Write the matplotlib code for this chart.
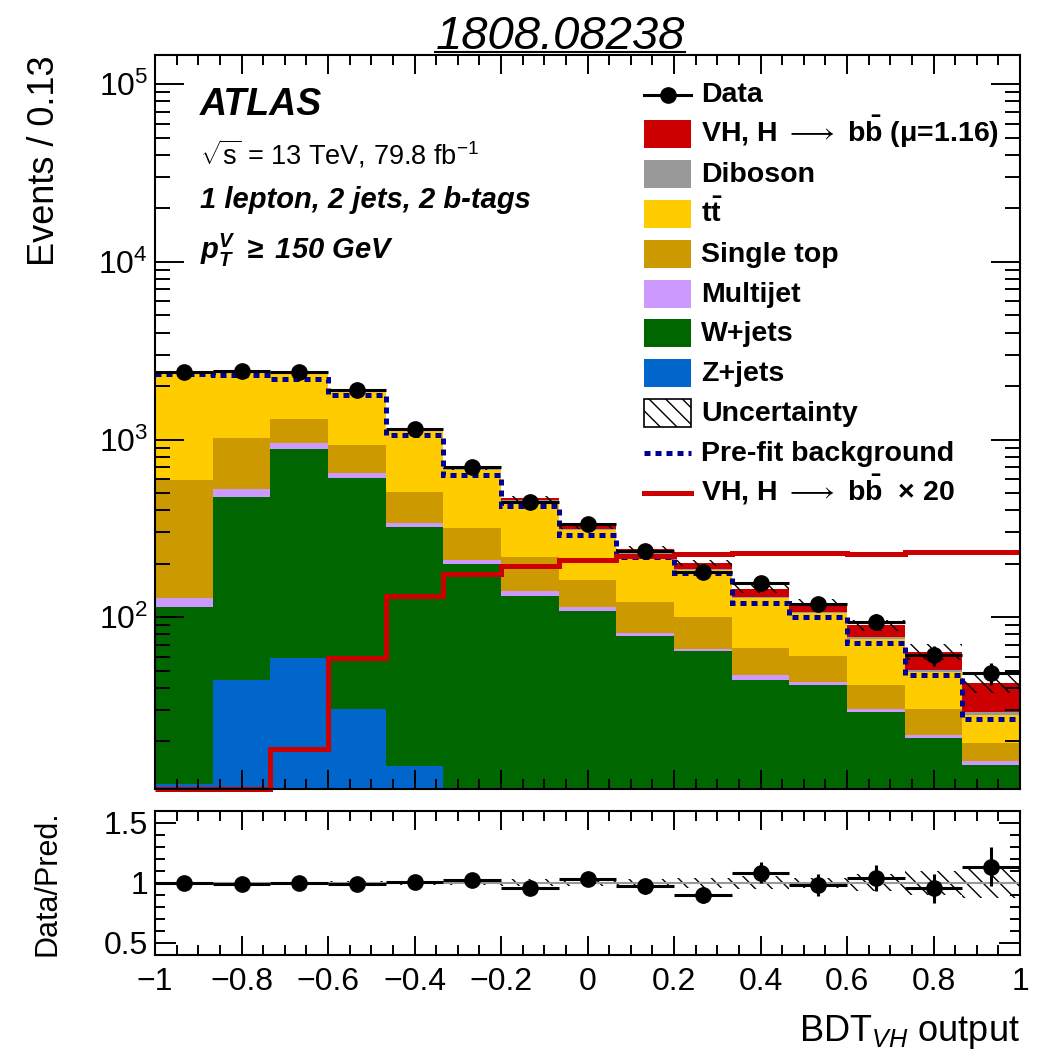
import numpy as np
import matplotlib
matplotlib.use("Agg")
import matplotlib.pyplot as plt
from matplotlib.lines import Line2D
from matplotlib.patches import Rectangle
from matplotlib.ticker import MultipleLocator, LogLocator, NullFormatter, FixedLocator, FuncFormatter

# ---------------- data ----------------
bin_edges = np.linspace(-1.0, 1.0, 16)
data = [2390, 2430, 2385, 1890, 1143, 705, 446, 335, 236, 180, 156, 119, 94, 61, 48.6]
zjets = [11.5, 44.6, 59.3, 30.6, 14.5, 5, 3, 2, 1.5, 1, 1, 0.8, 0.6, 0.5, 0.4]
wjets = [102.5, 430, 830, 580, 307.5, 194, 128, 106, 76.5, 63.6, 43.2, 41, 28.7, 20.5, 14.3]
multijet = [15, 55, 73, 41, 18, 10, 10, 6, 4, 2.1, 3, 1.4, 1.3, 0.7, 0.8]
singletop = [461, 491, 350, 277, 167, 109, 77, 49, 40, 33.3, 20, 17.3, 10.8, 8.9, 4]
ttbar = [1787, 1406, 1052, 957, 611, 356, 232, 146, 105, 85, 61, 45, 34, 18.4, 8.8]
diboson = [20, 22, 20, 16, 11, 7, 5, 4, 3.5, 3, 2.5, 2.2, 1.8, 1.4, 1.0]
vh_sm = [0.4, 0.45, 0.91, 2.93, 6.55, 8.75, 9.7, 10.45, 11.0, 11.3, 11.5, 11.5, 11.3, 11.65, 11.65]
mu_fit = 1.16
vh_scale = 20
prefit_bkg = [2330, 2320, 2200, 1775, 1066, 630, 423, 289, 217, 177, 120, 100, 71.7, 47.2, 26.9]
unc_rel = [0.01, 0.01, 0.01, 0.012, 0.015, 0.02, 0.03, 0.03, 0.036, 0.04, 0.055, 0.04, 0.07, 0.10, 0.125]

x_ticks = [-1, -0.8, -0.6, -0.4, -0.2, 0, 0.2, 0.4, 0.6, 0.8, 1]

legend_labels = [
    'Data',
    r'VH, H $\longrightarrow$ b$\bar{b}$ ($\mu$=1.16)',
    'Diboson',
    r't$\bar{t}$',
    'Single top',
    'Multijet',
    'W+jets',
    'Z+jets',
    'Uncertainty',
    'Pre-fit background',
    r'VH, H $\longrightarrow$ b$\bar{b}$  $\times$ 20',
]

# ---------------- style ----------------
plt.rcParams['font.family'] = ['Liberation Sans', 'DejaVu Sans']
plt.rcParams['mathtext.fontset'] = 'custom'
plt.rcParams['mathtext.rm'] = 'Liberation Sans'
plt.rcParams['mathtext.it'] = 'Liberation Sans:italic'
plt.rcParams['mathtext.bf'] = 'Liberation Sans:bold'
plt.rcParams['mathtext.default'] = 'regular'
plt.rcParams['hatch.linewidth'] = 1.0
plt.rcParams['axes.linewidth'] = 1.5

c_vh = '#CC0000'
c_dib = '#999999'
c_tt = '#FFCC00'
c_st = '#CC9900'
c_mj = '#CC99FF'
c_w = '#006600'
c_z = '#0066CC'
c_pre = '#000099'
hatch = '\\\\'
prefit_ls = (0, (1.2, 1.0))

W, H = 1044, 1054
fig = plt.figure(figsize=(W / 100, H / 100), dpi=100)
AX_L, AX_R, AX1_T, AX1_B = 155, 1020, 55, 789
ax1 = fig.add_axes([AX_L / W, 1 - AX1_B / H, (AX_R - AX_L) / W, (AX1_B - AX1_T) / H])
ax2 = fig.add_axes([AX_L / W, 1 - 955 / H, (AX_R - AX_L) / W, 144.3 / H])

edges = bin_edges
centers = 0.5 * (edges[1:] + edges[:-1])
half_w = 0.5 * (edges[1] - edges[0])
data_a = np.array(data, float)
vh_stack = mu_fit * np.array(vh_sm)

ymin, ymax = 10.8, 1.46e5

# stacked histogram
comps = [(zjets, c_z), (wjets, c_w), (multijet, c_mj), (singletop, c_st),
         (ttbar, c_tt), (diboson, c_dib), (vh_stack, c_vh)]
cum = np.full(15, 1e-3)
for vals, col in comps:
    new = cum + np.array(vals, float)
    ax1.stairs(new, edges, baseline=cum.copy(), fill=True, color=col, lw=0)
    cum = new
total = cum - 1e-3

unc_abs = total * np.array(unc_rel)
ax1.stairs(total + unc_abs, edges, baseline=total - unc_abs, fill=True,
           facecolor='none', edgecolor='black', hatch=hatch, lw=0)

ax1.stairs(prefit_bkg, edges, baseline=None, color=c_pre, lw=3.6, linestyle=prefit_ls)
vh_line = np.clip(np.array(vh_sm) * vh_scale, ymin, None)
ax1.stairs(vh_line, edges, baseline=None, color=c_vh, lw=3.6, clip_on=False)

ax1.errorbar(centers, data_a, xerr=half_w, yerr=np.sqrt(data_a), fmt='o', color='black',
             ms=11, lw=2.2, capsize=0, zorder=10)

ax1.set_yscale('log')
ax1.set_ylim(ymin, ymax)
ax1.set_xlim(-1, 1)
ax1.yaxis.set_major_locator(LogLocator(base=10, numticks=10))
ax1.yaxis.set_minor_locator(LogLocator(base=10, subs=np.arange(2, 10), numticks=20))
ax1.yaxis.set_minor_formatter(NullFormatter())
ax1.xaxis.set_major_locator(FixedLocator(x_ticks))
ax1.xaxis.set_minor_locator(MultipleLocator(0.05))
ax1.tick_params(axis='x', labelbottom=False)
ax1.tick_params(which='both', direction='in', top=True, right=True, width=1.4, labelsize=23)
ax1.tick_params(axis='y', which='major', length=21, pad=5)
ax1.tick_params(axis='y', which='minor', length=11)
ax1.tick_params(axis='x', which='major', length=14)
ax1.tick_params(axis='x', which='minor', length=7)

ax1.set_ylabel('Events / 0.13', fontsize=26, loc='top')
ax1.yaxis.set_label_coords(-0.1075, 1.0)

# text labels
ax1.text(0.052, 0.918, 'ATLAS', transform=ax1.transAxes, fontsize=27,
         fontweight='bold', fontstyle='italic')
ax1.text(0.052, 0.851, r'$\sqrt{s}$ = 13 TeV, 79.8 fb$^{-1}$', transform=ax1.transAxes,
         fontsize=19.5)
ax1.text(0.052, 0.792, '1 lepton, 2 jets, 2 b-tags', transform=ax1.transAxes, fontsize=21,
         fontweight='bold', fontstyle='italic')
ax1.text(0.052, 0.722, r'$p_{T}^{V}$ $\geq$ 150 GeV', transform=ax1.transAxes, fontsize=21,
         fontweight='bold', fontstyle='italic')

# legend (drawn entry by entry for ROOT-like even spacing)
def ax_x(px):
    return (px - AX_L) / (AX_R - AX_L)

def ax_y(py):
    return (AX1_B - py) / (AX1_B - AX1_T)

box_l, box_r, box_h = 644, 691, 28
text_x = 701
row0, pitch = 92.5, 39.8
kinds = ['data', c_vh, c_dib, c_tt, c_st, c_mj, c_w, c_z, 'unc', 'prefit', 'vhline']
for i, (kind, lab) in enumerate(zip(kinds, legend_labels)):
    yc = row0 + i * pitch
    if kind == 'data':
        ax1.add_line(Line2D([ax_x(box_l), ax_x(box_r)], [ax_y(yc + 2)] * 2, color='black',
                            lw=2.2, marker=None, transform=ax1.transAxes))
        ax1.add_line(Line2D([ax_x(0.5 * (box_l + box_r))], [ax_y(yc + 2)], color='black',
                            marker='o', ms=11, transform=ax1.transAxes))
    elif kind == 'prefit':
        ax1.add_line(Line2D([ax_x(box_l), ax_x(box_r)], [ax_y(yc + 2)] * 2, color=c_pre,
                            lw=3.6, linestyle=prefit_ls, transform=ax1.transAxes))
    elif kind == 'vhline':
        ax1.add_line(Line2D([ax_x(box_l), ax_x(box_r)], [ax_y(yc + 2)] * 2, color=c_vh,
                            lw=3.6, transform=ax1.transAxes))
    elif kind == 'unc':
        ax1.add_patch(Rectangle((ax_x(box_l), ax_y(yc + 2 + box_h / 2)),
                                ax_x(box_r) - ax_x(box_l), box_h / (AX1_B - AX1_T),
                                facecolor='white', edgecolor='black', hatch=hatch, lw=1.2,
                                transform=ax1.transAxes))
    else:
        ax1.add_patch(Rectangle((ax_x(box_l), ax_y(yc + 2 + box_h / 2)),
                                ax_x(box_r) - ax_x(box_l), box_h / (AX1_B - AX1_T),
                                facecolor=kind, edgecolor='none', lw=0,
                                transform=ax1.transAxes))
    ax1.text(ax_x(text_x), ax_y(yc + 10), lab, transform=ax1.transAxes, fontsize=20.5,
             fontweight='bold', va='baseline', ha='left')

# ratio panel
ratio = data_a / total
ratio_err = np.sqrt(data_a) / total
ur = np.array(unc_rel)
ax2.stairs(1 + ur, edges, baseline=1 - ur, fill=True, facecolor='none',
           edgecolor='black', hatch=hatch, lw=0)
ax2.axhline(1.0, color='#999999', lw=1.5)
ax2.errorbar(centers, ratio, xerr=half_w, yerr=ratio_err, fmt='o', color='black',
             ms=11, lw=2.2, capsize=0, zorder=10)
ax2.set_xlim(-1, 1)
ax2.set_ylim(0.4, 1.6)
ax2.yaxis.set_major_locator(FixedLocator([0.5, 1.0, 1.5]))
ax2.yaxis.set_major_formatter(FuncFormatter(lambda v, p: f'{v:g}'))
ax2.yaxis.set_minor_locator(MultipleLocator(0.1))
ax2.xaxis.set_major_locator(FixedLocator(x_ticks))
ax2.xaxis.set_minor_locator(MultipleLocator(0.05))
ax2.xaxis.set_major_formatter(FuncFormatter(lambda v, p: f'{round(v, 2):g}'.replace('-', '\u2212')))
ax2.tick_params(which='both', direction='in', top=True, right=True, width=1.4, labelsize=23)
ax2.tick_params(axis='y', which='major', length=15, pad=5)
ax2.tick_params(axis='y', which='minor', length=7)
ax2.tick_params(axis='x', which='major', length=14, pad=9)
ax2.tick_params(axis='x', which='minor', length=7)
ax2.set_ylabel('Data/Pred.', fontsize=22)
ax2.yaxis.set_label_coords(-0.1075, 0.5)
ax2.set_xlabel(r'BDT$_{\mathit{VH}}$ output', fontsize=26, loc='right')
ax2.xaxis.set_label_coords(1.0, -0.40)

# title with underline
title = fig.text(560 / W, 1 - 49 / H, '1808.08238', fontsize=34, fontstyle='italic',
                 ha='center', va='baseline')
fig.canvas.draw()
bb = title.get_window_extent()
fig.add_artist(Line2D([bb.x0 / W, bb.x1 / W], [1 - 52 / H, 1 - 52 / H],
                      transform=fig.transFigure, color='black', lw=1.5))

fig.savefig('out.png', dpi=100)
